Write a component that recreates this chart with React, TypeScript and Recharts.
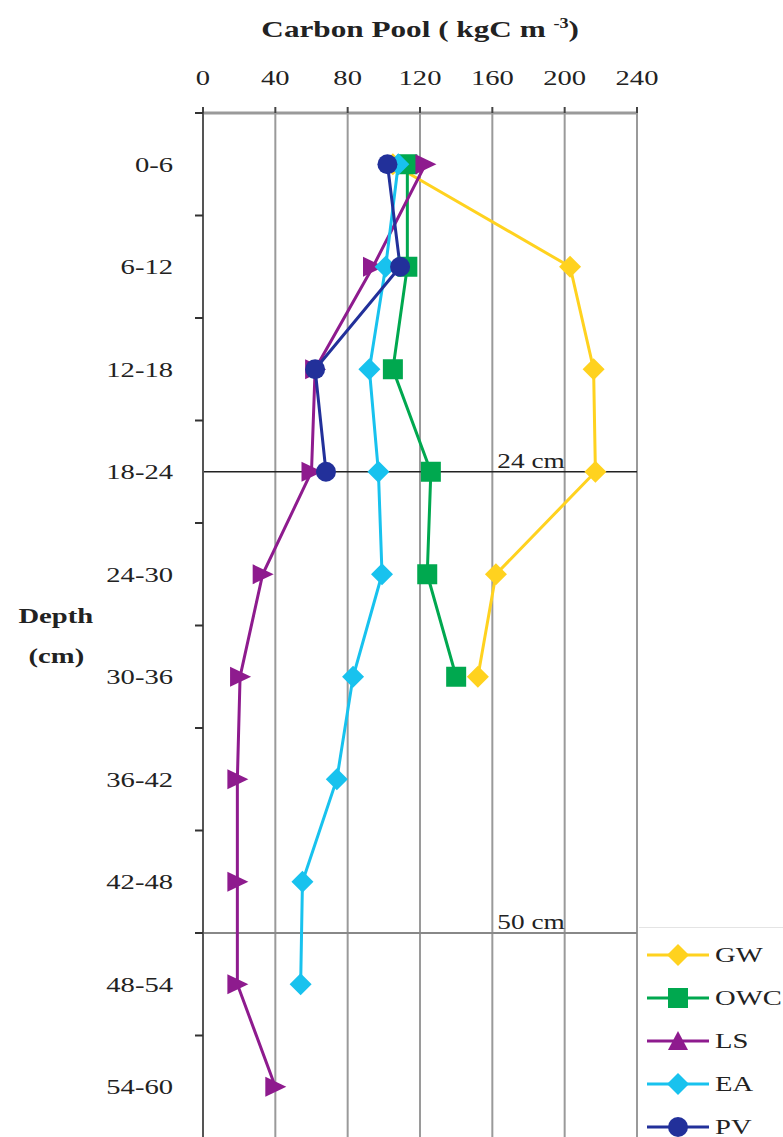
import React from "react";
import {
  CartesianGrid,
  Line,
  LineChart,
  ReferenceLine,
  XAxis,
  YAxis,
} from "recharts";

// depth classes (cm) and their mid-depths
const depthLabels = ["0-6", "6-12", "12-18", "18-24", "24-30", "30-36", "36-42", "42-48", "48-54", "54-60"];
const depthMid = [3, 9, 15, 21, 27, 33, 39, 45, 51, 57];

// carbon pool per depth class, kgC m-3
const gwValues = [105, 203, 216, 217, 162, 152];
const owcValues = [113, 113, 105, 126, 124, 140];
const lsValues = [123, 94, 62, 60, 33, 20.5, 19, 19, 19, 40];
const eaValues = [108, 101, 92, 97, 99, 83, 74, 55, 54];
const pvValues = [102, 109, 62, 68];

const xTicks = [0, 40, 80, 120, 160, 200, 240];
const yTicks = [0, 3, 6, 9, 12, 15, 18, 21, 24, 27, 30, 33, 36, 39, 42, 45, 48, 51, 54, 57, 60];

const FONT = '"Liberation Serif", "Times New Roman", serif';
const STRETCH = 1.3;

type Shape = "diamond" | "square" | "triangle" | "circle";

const series: { key: string; name: string; color: string; shape: Shape; values: number[] }[] = [
  { key: "gw", name: "GW", color: "#FFD21F", shape: "diamond", values: gwValues },
  { key: "owc", name: "OWC", color: "#00A84F", shape: "square", values: owcValues },
  { key: "ls", name: "LS", color: "#8E1B8E", shape: "triangle", values: lsValues },
  { key: "ea", name: "EA", color: "#18C2EE", shape: "diamond", values: eaValues },
  { key: "pv", name: "PV", color: "#22309A", shape: "circle", values: pvValues },
];

const data = depthMid.map((depth, i) => {
  const row: Record<string, number | string | null> = { depth, label: depthLabels[i] };
  series.forEach((s) => {
    row[s.key] = i < s.values.length ? s.values[i] : null;
  });
  return row;
});

const labelFor = (d: number) => {
  const i = depthMid.indexOf(d);
  return i >= 0 ? depthLabels[i] : "";
};

function marker(shape: Shape, cx: number, cy: number, color: string, pointUp = false) {
  switch (shape) {
    case "diamond":
      return <polygon points={`${cx},${cy - 11} ${cx + 11},${cy} ${cx},${cy + 11} ${cx - 11},${cy}`} fill={color} />;
    case "square":
      return <rect x={cx - 10} y={cy - 10} width={20} height={20} fill={color} />;
    case "triangle":
      return pointUp ? (
        <polygon points={`${cx},${cy - 10} ${cx + 10},${cy + 9} ${cx - 10},${cy + 9}`} fill={color} />
      ) : (
        <polygon points={`${cx + 11},${cy} ${cx - 10},${cy - 10} ${cx - 10},${cy + 10}`} fill={color} />
      );
    default:
      return <circle cx={cx} cy={cy} r={10} fill={color} />;
  }
}

const makeDot = (shape: Shape, color: string) => (props: any) => {
  const { cx, cy, key, index } = props;
  if (cx == null || cy == null || Number.isNaN(cx)) return <g key={key ?? index} />;
  return <g key={key ?? index}>{marker(shape, cx, cy, color)}</g>;
};

const XTick = (props: any) => {
  const { x, y, payload } = props;
  return (
    <text
      transform={`translate(${x} ${y}) scale(${STRETCH} 1)`}
      textAnchor="middle"
      fontFamily={FONT}
      fontSize={22}
      fill="#222"
    >
      {payload.value}
    </text>
  );
};

const YTick = (props: any) => {
  const { x, y, payload } = props;
  const v = payload.value as number;
  if (v % 6 === 0) {
    // boundary between depth classes: short tick mark only
    return <line x1={x + 22} x2={x + 30} y1={y} y2={y} stroke="#333" strokeWidth={2} />;
  }
  return (
    <text
      transform={`translate(${x} ${y}) scale(${STRETCH} 1)`}
      textAnchor="end"
      dy="0.35em"
      fontFamily={FONT}
      fontSize={22}
      fill="#222"
    >
      {labelFor(v)}
    </text>
  );
};

const refLabel = (text: string) => (props: any) => {
  const { viewBox } = props;
  const x = viewBox.x + (viewBox.width * 160) / 240 + 5;
  const y = viewBox.y - 4;
  return (
    <text transform={`translate(${x} ${y}) scale(${STRETCH} 1)`} fontFamily={FONT} fontSize={21} fill="#222">
      {text}
    </text>
  );
};

const stretched: React.CSSProperties = {
  display: "inline-block",
  transform: `scaleX(${STRETCH})`,
  whiteSpace: "nowrap",
};

export default function App() {
  return (
    <div
      style={{
        position: "absolute",
        left: 0,
        top: 0,
        width: 783,
        height: 1137,
        overflow: "hidden",
        background: "#fff",
        fontFamily: FONT,
        color: "#222",
      }}
    >
      <div style={{ position: "absolute", left: 0, width: 840, top: 16, textAlign: "center", fontSize: 24, fontWeight: "bold" }}>
        <span style={{ ...stretched, transformOrigin: "center" }}>
          Carbon Pool ( kgC m <sup style={{ fontSize: 14 }}>-3</sup>)
        </span>
      </div>

      <div
        style={{
          position: "absolute",
          left: 0,
          width: 112,
          top: 596,
          textAlign: "center",
          fontSize: 22,
          fontWeight: "bold",
          lineHeight: "40px",
        }}
      >
        <div>
          <span style={{ ...stretched, transformOrigin: "center" }}>Depth</span>
        </div>
        <div>
          <span style={{ ...stretched, transformOrigin: "center" }}>(cm)</span>
        </div>
      </div>

      <LineChart
        width={783}
        height={1145}
        data={data}
        layout="vertical"
        margin={{ top: 53, right: 146, bottom: 7, left: 0 }}
        style={{ position: "absolute", left: 0, top: 0 }}
      >
        <CartesianGrid horizontal={false} vertical stroke="#9a9a9a" strokeWidth={2} />
        <XAxis
          type="number"
          orientation="top"
          domain={[0, 240]}
          ticks={xTicks}
          height={60}
          tickSize={6}
          tickMargin={22}
          tick={<XTick />}
          axisLine={{ stroke: "#9a9a9a", strokeWidth: 3 }}
          tickLine={{ stroke: "#444", strokeWidth: 2 }}
          allowDataOverflow
        />
        <YAxis
          type="number"
          dataKey="depth"
          domain={[0, 60]}
          ticks={yTicks}
          interval={0}
          width={203}
          tickSize={8}
          tickMargin={22}
          tickLine={false}
          tick={<YTick />}
          axisLine={{ stroke: "#555", strokeWidth: 2 }}
          allowDataOverflow
        />
        <ReferenceLine y={21} stroke="#222" strokeWidth={1.5} label={refLabel("24 cm")} />
        <ReferenceLine y={48} stroke="#888" strokeWidth={2} label={refLabel("50 cm")} />
        {series.map((s) => (
          <Line
            key={s.key}
            dataKey={s.key}
            name={s.name}
            stroke={s.color}
            strokeWidth={3}
            type="linear"
            dot={makeDot(s.shape, s.color)}
            activeDot={false}
            isAnimationActive={false}
          />
        ))}
      </LineChart>

      {/* legend box */}
      <div
        style={{
          position: "absolute",
          left: 639,
          top: 927,
          width: 150,
          height: 220,
          background: "#fff",
          borderTop: "1px solid #e4e4e4",
          boxSizing: "border-box",
          paddingTop: 5,
        }}
      >
        {series.map((s) => (
          <div key={s.key} style={{ display: "flex", alignItems: "center", height: 43, paddingLeft: 8 }}>
            <svg width={62} height={24} style={{ flex: "none" }}>
              <line x1={0} x2={62} y1={12} y2={12} stroke={s.color} strokeWidth={3} />
              {marker(s.shape, 31, 12, s.color, true)}
            </svg>
            <span style={{ ...stretched, transformOrigin: "left", fontSize: 22, marginLeft: 6 }}>{s.name}</span>
          </div>
        ))}
      </div>
    </div>
  );
}
